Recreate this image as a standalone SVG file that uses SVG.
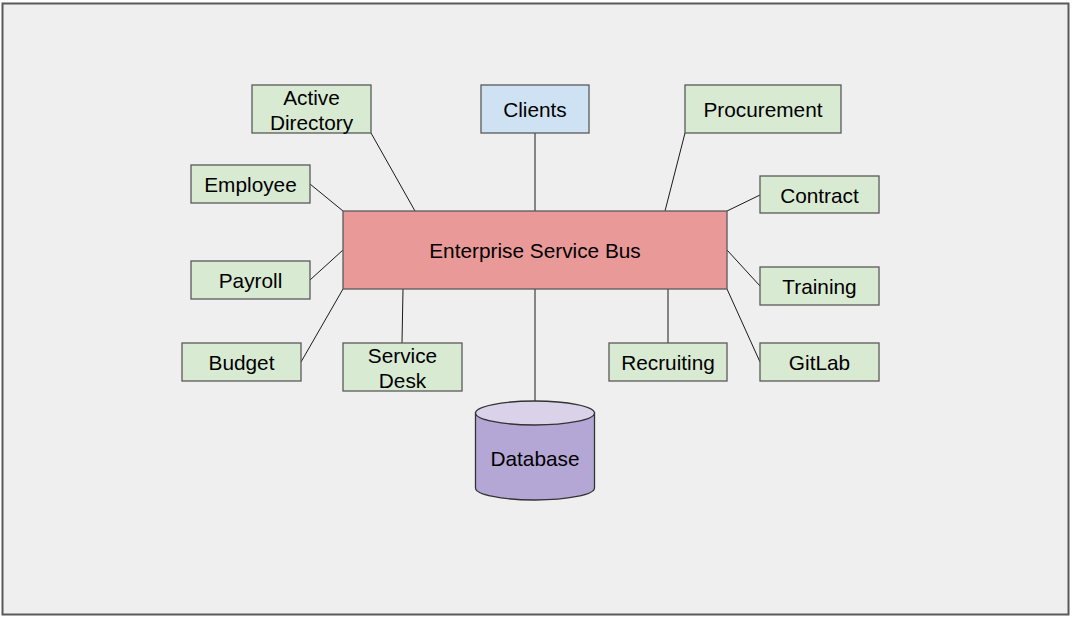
<svg xmlns="http://www.w3.org/2000/svg" width="1072" height="619" viewBox="0 0 1072 619">
<style>
.n{fill:#d9ead3;stroke:#595959;stroke-width:1.3}
.t{font-family:"Liberation Sans",Arial,sans-serif;font-size:20.8px;fill:#000;text-anchor:middle;dominant-baseline:central}
.c line{stroke:#1a1a1a;stroke-width:1}
</style>
<rect x="0" y="0" width="1072" height="619" fill="#ffffff"/>
<rect x="2.5" y="3.5" width="1066" height="611" fill="#efefef" stroke="#595959" stroke-width="2"/>
<g class="c" id="connectors">
<line x1="371" y1="133" x2="415" y2="211"/>
<line x1="535" y1="133" x2="535" y2="211"/>
<line x1="685" y1="133" x2="665" y2="211"/>
<line x1="310" y1="184" x2="343" y2="211"/>
<line x1="760" y1="195" x2="727" y2="211"/>
<line x1="310" y1="280" x2="343" y2="250"/>
<line x1="301" y1="362" x2="343" y2="289"/>
<line x1="402" y1="343" x2="403" y2="289"/>
<line x1="535" y1="289" x2="535" y2="401"/>
<line x1="668" y1="343" x2="668" y2="289"/>
<line x1="760" y1="286" x2="727" y2="250"/>
<line x1="760" y1="362" x2="727" y2="289"/>
</g>
<g id="esb"><rect x="343" y="211" width="384" height="78" fill="#ea9999" stroke="#595959" stroke-width="1.3"/><text class="t" x="535" y="250">Enterprise Service Bus</text></g>
<g id="active-directory"><rect class="n" x="252" y="85" width="119" height="48"/><text class="t" x="311.5" y="97">Active</text><text class="t" x="311.5" y="122">Directory</text></g>
<g id="clients"><rect x="481" y="85" width="108" height="48" fill="#cfe2f3" stroke="#595959" stroke-width="1.3"/><text class="t" x="535" y="109">Clients</text></g>
<g id="procurement"><rect class="n" x="685" y="85" width="156" height="48"/><text class="t" x="763" y="109">Procurement</text></g>
<g id="employee"><rect class="n" x="191" y="165" width="119" height="38"/><text class="t" x="250.5" y="184">Employee</text></g>
<g id="contract"><rect class="n" x="760" y="176" width="119" height="37"/><text class="t" x="819.5" y="195">Contract</text></g>
<g id="payroll"><rect class="n" x="191" y="261" width="119" height="38"/><text class="t" x="250.5" y="280">Payroll</text></g>
<g id="training"><rect class="n" x="760" y="267" width="119" height="38"/><text class="t" x="819.5" y="286">Training</text></g>
<g id="budget"><rect class="n" x="182" y="343" width="119" height="38"/><text class="t" x="241.5" y="362">Budget</text></g>
<g id="service-desk"><rect class="n" x="343" y="343" width="119" height="48"/><text class="t" x="402.5" y="355">Service</text><text class="t" x="402.5" y="380">Desk</text></g>
<g id="recruiting"><rect class="n" x="609" y="343" width="118" height="38"/><text class="t" x="668" y="362">Recruiting</text></g>
<g id="gitlab"><rect class="n" x="760" y="343" width="119" height="38"/><text class="t" x="819.5" y="362">GitLab</text></g>
<g id="database">
<path d="M475.5 413 L475.5 488 A59.5 12 0 0 0 594.5 488 L594.5 413 Z" fill="#b4a7d6" stroke="#333" stroke-width="1.3"/>
<ellipse cx="535" cy="413" rx="59.5" ry="12" fill="#d9d2e9" stroke="#333" stroke-width="1.3"/>
<text class="t" x="535" y="458">Database</text>
</g>
</svg>
